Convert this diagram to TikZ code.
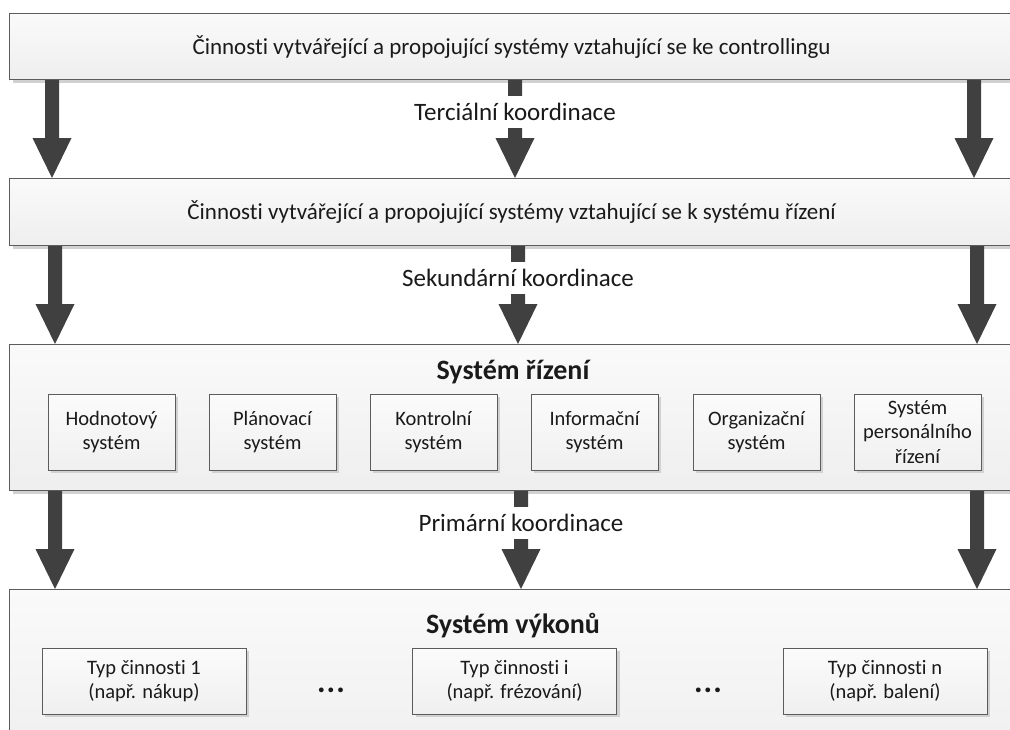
\documentclass[tikz,border=0pt]{standalone}
\usepackage{fontspec}
\setmainfont[Ligatures=NoCommon]{Carlito}
\usetikzlibrary{calc,shadows}
\definecolor{arrowfill}{HTML}{404040}
\definecolor{edge}{HTML}{5C5C5C}
\definecolor{ink}{HTML}{1A1A1A}

% thick block arrow from the bottom of one panel to the top of the next,
% along the vertical line through a named coordinate
\newcommand\fatarrow[3]{%
  \fill[arrowfill] let \p1=(#1.south -| #3), \p2=(#2.north -| #3) in
    (\x1-7pt,\y1) -- (\x1-7pt,\y2+40pt) -- (\x1-19.5pt,\y2+40pt) -- (\x2,\y2)
    -- (\x1+19.5pt,\y2+40pt) -- (\x1+7pt,\y2+40pt) -- (\x1+7pt,\y1) -- cycle;}

\begin{document}
\begin{tikzpicture}[x=1pt,y=-1pt,
  every node/.style={text=ink},
  shade/.style={drop shadow={shadow xshift=3pt,shadow yshift=-3pt,fill=black!18,opacity=1}},
  panel/.style={rectangle,draw=edge,line width=1.2pt,top color=gray!4,bottom color=gray!13,
    shade,inner sep=0pt,anchor=north west,align=center,font=\fontsize{23}{28}\selectfont},
  subbox/.style={rectangle,draw=edge,line width=1pt,top color=gray!3,bottom color=gray!12,
    shade,inner sep=0pt,align=center,font=\fontsize{20.5}{24.5}\selectfont},
  title/.style={font=\bfseries\fontsize{28}{32}\selectfont},
  coord/.style={fill=white,inner xsep=4pt,inner ysep=0pt,minimum height=32,
    font=\fontsize{25}{30}\selectfont},
  dots/.style={font=\bfseries\fontsize{32}{36}\selectfont,anchor=base}]
\useasboundingbox (0,0) rectangle (1010,729);
\clip (0,0) rectangle (1010,729);

% panels
\node[panel,minimum width=1004,minimum height=66] (p1) at (9,13)
  {Činnosti vytvářející a propojující systémy vztahující se ke controllingu};
\node[panel,minimum width=1004,minimum height=67] (p2) at (9,178)
  {Činnosti vytvářející a propojující systémy vztahující se k systému řízení};
\node[panel,minimum width=1004,minimum height=146] (p3) at (9,344) {};
\node[panel,minimum width=1004,minimum height=180] (p4) at (9,589) {};

% management system
\node[title] (t3) at (513,372) {Systém řízení};
\node[subbox,minimum width=127,minimum height=76] (s1) at (111.5,432) {Hodnotový\\systém};
\node[subbox,minimum width=127,minimum height=76] (s2) at (272.5,432) {Plánovací\\systém};
\node[subbox,minimum width=127,minimum height=76] (s3) at (433.5,432) {Kontrolní\\systém};
\node[subbox,minimum width=127,minimum height=76] (s4) at (594.5,432) {Informační\\systém};
\node[subbox,minimum width=127,minimum height=76] (s5) at (756.5,432) {Organizační\\systém};
\node[subbox,minimum width=127,minimum height=76] (s6) at (917.5,432) {Systém\\personálního\\řízení};

% performance system
\node[title] (t4) at (513,626) {Systém výkonů};
\node[subbox,minimum width=204,minimum height=66] (v1) at (144,681) {Typ činnosti 1\\(např. nákup)};
\node[subbox,minimum width=204,minimum height=66] (v2) at (514.5,681) {Typ činnosti i\\(např. frézování)};
\node[subbox,minimum width=204,minimum height=66] (v3) at (885,681) {Typ činnosti n\\(např. balení)};
\node[dots] (d1) at (331,692) {.\hspace{1pt}.\hspace{1pt}.};
\node[dots] (d2) at (708,692) {.\hspace{1pt}.\hspace{1pt}.};

% arrow positions
\coordinate (a1l) at (52,0);  \coordinate (a1m) at (515,0); \coordinate (a1r) at (974,0);
\coordinate (a2l) at (55,0);  \coordinate (a2m) at (518,0); \coordinate (a2r) at (977,0);
\coordinate (a3l) at (55,0);  \coordinate (a3m) at (521,0); \coordinate (a3r) at (977,0);

\fatarrow{p1}{p2}{a1l} \fatarrow{p1}{p2}{a1m} \fatarrow{p1}{p2}{a1r}
\fatarrow{p2}{p3}{a2l} \fatarrow{p2}{p3}{a2m} \fatarrow{p2}{p3}{a2r}
\fatarrow{p3}{p4}{a3l} \fatarrow{p3}{p4}{a3m} \fatarrow{p3}{p4}{a3r}

% coordination levels
\node[coord] (k1) at (515,112) {Terciální koordinace};
\node[coord] (k2) at (518,278) {Sekundární koordinace};
\node[coord] (k3) at (521,523) {Primární koordinace};
\end{tikzpicture}
\end{document}
